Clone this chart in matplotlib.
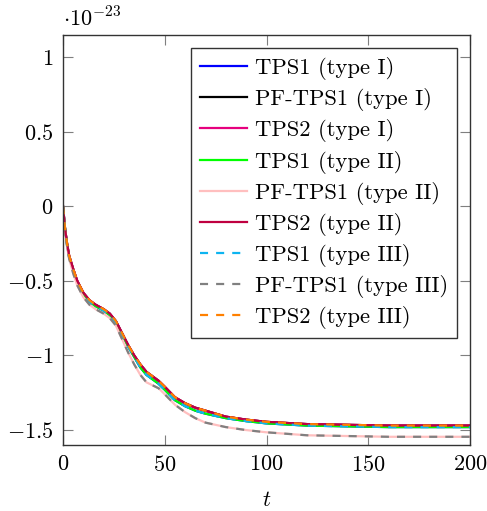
import numpy as np
import matplotlib
matplotlib.use("Agg")
import matplotlib.pyplot as plt

plt.rcParams['font.family'] = 'serif'
plt.rcParams['font.serif'] = ['cmr10']
plt.rcParams['mathtext.fontset'] = 'cm'
plt.rcParams['axes.unicode_minus'] = False
plt.rcParams['lines.scale_dashes'] = False

# time samples and the three visible groups of curves (units of 1e-23)
t = [0, 1, 2, 3, 5, 7, 10, 13, 16, 20, 23, 26, 29, 32, 35, 38, 41, 44, 47,
     50, 55, 60, 65, 70, 80, 90, 100, 120, 140, 160, 180, 200]
upper = [0, -0.15, -0.25, -0.33, -0.42, -0.50, -0.58, -0.63, -0.66, -0.69,
         -0.72, -0.77, -0.85, -0.93, -1.00, -1.06, -1.11, -1.14, -1.17,
         -1.21, -1.28, -1.32, -1.35, -1.37, -1.41, -1.43, -1.445, -1.46,
         -1.465, -1.47, -1.47, -1.47]
middle = [0, -0.15, -0.26, -0.34, -0.43, -0.51, -0.59, -0.64, -0.67, -0.70,
          -0.73, -0.78, -0.86, -0.94, -1.01, -1.08, -1.13, -1.16, -1.19,
          -1.23, -1.30, -1.34, -1.37, -1.39, -1.42, -1.44, -1.455, -1.47,
          -1.475, -1.48, -1.48, -1.48]
lower = [0, -0.16, -0.27, -0.35, -0.45, -0.53, -0.61, -0.66, -0.69, -0.72,
         -0.75, -0.80, -0.89, -0.98, -1.06, -1.13, -1.18, -1.20, -1.22,
         -1.26, -1.33, -1.38, -1.42, -1.45, -1.48, -1.50, -1.515, -1.535,
         -1.54, -1.545, -1.545, -1.545]

labels = ['TPS1 (type I)', 'PF-TPS1 (type I)', 'TPS2 (type I)',
          'TPS1 (type II)', 'PF-TPS1 (type II)', 'TPS2 (type II)',
          'TPS1 (type III)', 'PF-TPS1 (type III)', 'TPS2 (type III)']
series = [middle, upper, upper, middle, lower, upper, middle, lower, upper]
colors = ['#0000FF', '#000000', '#E6007E', '#00FF00', '#FFBFBF', '#BF0040',
          '#0DB4F0', '#808080', '#FF8000']
dashed = [False, False, False, False, False, False, True, True, True]

xticks = [0, 50, 100, 150, 200]
yticks = [-1.5, -1, -0.5, 0, 0.5, 1]

fig = plt.figure(figsize=(4.87, 5.11), dpi=100)
ax = fig.add_axes([63/487, 1-445/511, 407/487, 410/511])

for y, lab, c, d in zip(series, labels, colors, dashed):
    line, = ax.plot(t, y, color=c, lw=1.6, label=lab)
    if d:
        line.set_dashes((5.8, 5.8))

ax.set_xlim(0, 200)
ax.set_ylim(-1.6, 1.147)
ax.set_xticks(xticks)
ax.set_xticklabels(['$%g$' % v for v in xticks])
ax.set_yticks(yticks)
ax.set_yticklabels(['$%g$' % v for v in yticks])
ax.tick_params(direction='in', length=7, width=0.8, color='#7f7f7f',
               top=True, right=True, labelsize=16, pad=7)
for s in ax.spines.values():
    s.set_color('#333333')
    s.set_linewidth(1.0)

ax.set_xlabel('$t$', fontsize=16, labelpad=11)
ax.text(0.0, 1.012, r'$\cdot 10^{-23}$', transform=ax.transAxes,
        fontsize=16, ha='left', va='bottom')

leg = ax.legend(loc='upper right', bbox_to_anchor=(1-13/407, 1-13/410),
                borderaxespad=0, fontsize=16.3, fancybox=False,
                edgecolor='#333333', framealpha=1, handlelength=2.1,
                handletextpad=0.33, labelspacing=0.36, borderpad=0.4)
leg.get_frame().set_linewidth(1.0)

fig.savefig('out.png', dpi=100)
